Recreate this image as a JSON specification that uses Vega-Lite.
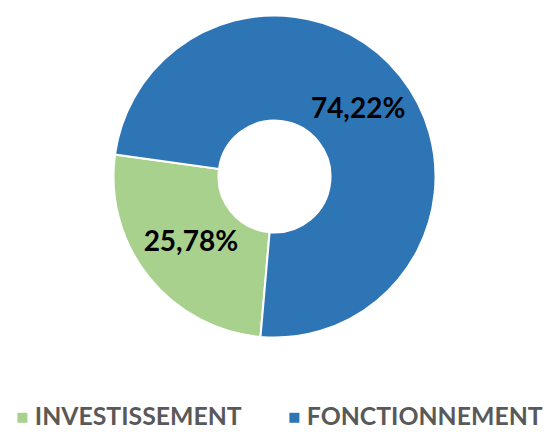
{
  "$schema": "https://vega.github.io/schema/vega-lite/v6.json",
  "width": 549,
  "height": 353,
  "autosize": "none",
  "padding": {"left": 0, "top": 0, "right": 0, "bottom": 79},
  "background": "white",
  "config": {
    "view": {"stroke": null},
    "locale": {"number": {"decimal": ",", "thousands": " ", "grouping": [3], "currency": ["", " €"]}}
  },
  "data": {
    "values": [
      {"poste": "INVESTISSEMENT", "part": 0.2578, "rang": 1},
      {"poste": "FONCTIONNEMENT", "part": 0.7422, "rang": 2}
    ]
  },
  "encoding": {
    "theta": {"field": "part", "type": "quantitative", "stack": true, "scale": {"range": [3.229, 9.512]}},
    "order": {"field": "rang", "type": "quantitative"},
    "color": {
      "field": "poste",
      "type": "nominal",
      "scale": {"domain": ["INVESTISSEMENT", "FONCTIONNEMENT"], "range": ["#A9D18E", "#2E75B6"]},
      "legend": {
        "title": null,
        "orient": "none",
        "direction": "horizontal",
        "legendX": 10,
        "legendY": 405,
        "padding": 0,
        "symbolType": "square",
        "symbolSize": 100,
        "symbolStrokeWidth": 0,
        "labelOffset": 0,
        "columnPadding": 40,
        "labelFont": "Lato",
        "labelFontWeight": "bold",
        "labelFontSize": 24.8,
        "labelColor": "#595959",
        "labelLimit": 400
      }
    }
  },
  "layer": [
    {
      "mark": {"type": "arc", "radius": 161, "innerRadius": 56, "stroke": "white", "strokeWidth": 2}
    },
    {
      "mark": {"type": "text", "radius": 107, "font": "Lato", "fontWeight": "bold", "fontSize": 28, "color": "black", "align": "center", "baseline": "middle"},
      "encoding": {
        "text": {"field": "part", "type": "quantitative", "format": ".2%"},
        "color": {"value": "black"}
      }
    }
  ]
}
